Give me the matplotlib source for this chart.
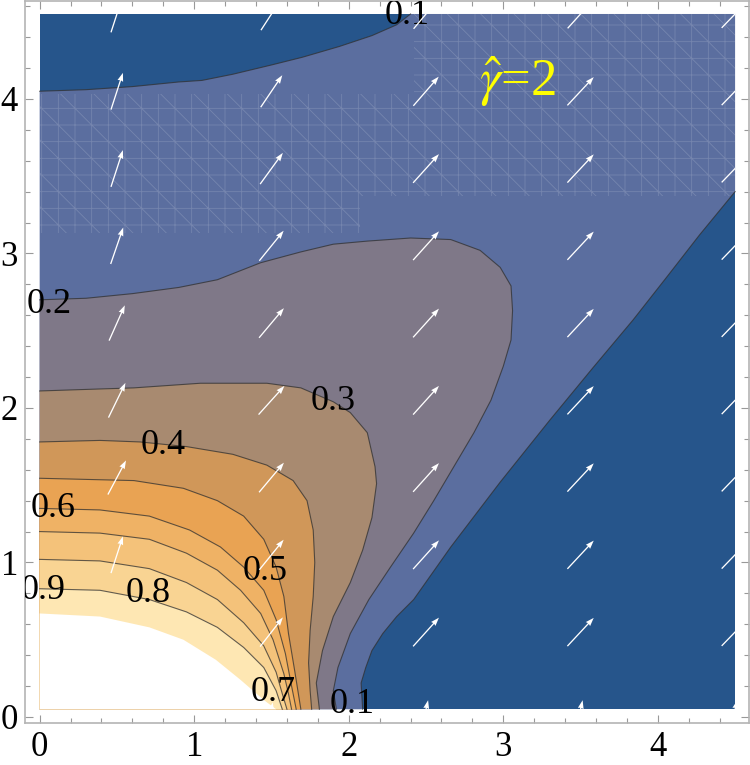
import numpy as np
import matplotlib.pyplot as plt
from matplotlib.patches import Polygon, Rectangle
from matplotlib.ticker import MultipleLocator

plt.rcParams['font.family'] = ['Liberation Serif', 'DejaVu Serif']
plt.rcParams['mathtext.fontset'] = 'stix'
plt.rcParams['hatch.linewidth'] = 0.6

# plotted domain
x_lo, x_hi = 0.0, 4.5
y_lo, y_hi = 0.05, 4.55

# band colours, lowest band (<0.1) first, last one is 0.9-1.0
band_colors = ['#26558b', '#5b6e9f', '#7f7888', '#a88a70', '#d09759',
               '#e9a353', '#efb265', '#f4c27a', '#f9d493', '#fee7b3']

# contour lines
c01_top_x = [0, 0.3, 0.6, 0.9, 1.05, 1.25, 1.5, 1.7, 1.94, 2.15, 2.31, 2.40]
c01_top_y = [4.05, 4.06, 4.08, 4.11, 4.12, 4.16, 4.22, 4.27, 4.34, 4.41, 4.48, 4.55]
c01_bot_x = [2.09, 2.08, 2.11, 2.15, 2.22, 2.31, 2.42, 2.66, 2.98, 3.30, 3.58, 3.84, 4.06, 4.27, 4.50]
c01_bot_y = [0.05, 0.22, 0.32, 0.43, 0.54, 0.65, 0.76, 1.10, 1.52, 1.92, 2.26, 2.57, 2.85, 3.12, 3.40]
c02_x = [0, 0.3, 0.6, 0.9, 1.15, 1.43, 1.69, 1.90, 2.12, 2.40, 2.66, 2.85, 2.98, 3.05, 3.06,
         3.05, 3.00, 2.92, 2.81, 2.68, 2.55, 2.42, 2.27, 2.13, 2.01, 1.93, 1.90, 1.92]
c02_y = [2.70, 2.71, 2.74, 2.78, 2.83, 2.94, 3.01, 3.06, 3.08, 3.10, 3.09, 3.02, 2.91, 2.79, 2.63,
         2.44, 2.27, 2.05, 1.84, 1.62, 1.40, 1.19, 0.97, 0.76, 0.54, 0.32, 0.17, 0.05]
c03_x = [0, 0.3, 0.61, 1.04, 1.47, 1.69, 1.90, 2.01, 2.12, 2.17, 2.18, 2.15, 2.09, 2.01, 1.90, 1.83, 1.79, 1.81]
c03_y = [2.11, 2.12, 2.13, 2.16, 2.16, 2.13, 2.04, 1.97, 1.84, 1.62, 1.51, 1.29, 1.08, 0.87, 0.65, 0.43, 0.22, 0.05]
c04_x = [0, 0.39, 0.65, 0.95, 1.25, 1.47, 1.64, 1.73, 1.77, 1.78, 1.77, 1.75, 1.74, 1.75, 1.76]
c04_y = [1.78, 1.79, 1.78, 1.75, 1.70, 1.63, 1.53, 1.40, 1.21, 1.00, 0.78, 0.56, 0.35, 0.17, 0.05]
c05_x = [0, 0.61, 0.93, 1.15, 1.32, 1.45, 1.53, 1.58, 1.61, 1.65, 1.69]
c05_y = [1.545, 1.53, 1.48, 1.40, 1.30, 1.15, 0.97, 0.78, 0.54, 0.30, 0.05]
c06_x = [0, 0.39, 0.71, 0.97, 1.17, 1.32, 1.45, 1.53, 1.59, 1.63, 1.66]
c06_y = [1.35, 1.34, 1.30, 1.21, 1.10, 0.97, 0.82, 0.63, 0.41, 0.20, 0.05]
c07_x = [0, 0.39, 0.71, 0.95, 1.15, 1.30, 1.43, 1.51, 1.58, 1.61, 1.63]
c07_y = [1.20, 1.19, 1.15, 1.06, 0.95, 0.82, 0.67, 0.50, 0.28, 0.15, 0.05]
c08_x = [0, 0.39, 0.71, 0.95, 1.15, 1.32, 1.45, 1.53, 1.57, 1.60]
c08_y = [1.02, 1.01, 0.96, 0.87, 0.76, 0.61, 0.46, 0.29, 0.15, 0.05]
c09_x = [0, 0.39, 0.71, 0.95, 1.15, 1.32, 1.45, 1.53, 1.57]
c09_y = [0.83, 0.82, 0.76, 0.68, 0.58, 0.45, 0.32, 0.17, 0.05]
white_x = [0, 0.39, 0.71, 0.93, 1.14, 1.30, 1.45, 1.53]
white_y = [0.67, 0.65, 0.58, 0.50, 0.37, 0.24, 0.11, 0.05]

inner_lines = [(c02_x, c02_y), (c03_x, c03_y), (c04_x, c04_y), (c05_x, c05_y),
               (c06_x, c06_y), (c07_x, c07_y), (c08_x, c08_y), (c09_x, c09_y)]

# contour labels
lab_text = ['0.1', '0.1', '0.2', '0.3', '0.4', '0.5', '0.6', '0.7', '0.8', '0.9']
lab_x = [2.38, 2.02, 0.06, 1.90, 0.80, 1.46, 0.09, 1.51, 0.70, 0.02]
lab_y = [4.54, 0.08, 2.67, 2.04, 1.76, 0.94, 1.35, 0.16, 0.80, 0.82]

# vector field: columns and rows of arrows, angle (deg) and length per arrow
vec_x = [0.5, 1.5, 2.5, 3.5, 4.5]
vec_y = [0.05, 0.55, 1.05, 1.55, 2.05, 2.55, 3.05, 3.55, 4.05, 4.55]
vec_ang = np.array([
    [80, 80, 77, 77, 76],
    [75, 52, 48, 47, 46],
    [72, 51, 48, 47, 46],
    [62, 50, 48, 47, 46],
    [64, 48, 48, 47, 46],
    [66, 50, 48, 47, 46],
    [71, 51, 48, 47, 46],
    [72, 54, 48, 47, 46],
    [72, 56, 49, 47, 46],
    [72, 57, 50, 48, 46]])
vec_len = np.array([
    [0.06, 0.09, 0.12, 0.12, 0.12],
    [0.08, 0.24, 0.25, 0.25, 0.25]] + [[0.25] * 5] * 8)

fig = plt.figure(figsize=(7.5, 7.65), dpi=100)
ax = fig.add_axes([25 / 750, 42 / 765, 724 / 750, 722 / 765])

# filled bands, painted from the outside in
ax.add_patch(Rectangle((x_lo, y_lo), x_hi - x_lo, y_hi - y_lo, facecolor=band_colors[0], lw=0, zorder=1))
p01 = (list(zip(c01_top_x, c01_top_y)) + [(x_hi, y_hi)]
       + list(zip(c01_bot_x[::-1], c01_bot_y[::-1])) + [(x_lo, y_lo)])
poly01 = Polygon(p01, closed=True, facecolor=band_colors[1], lw=0, zorder=1)
ax.add_patch(poly01)
for k, (cx, cy) in enumerate(inner_lines):
    pts = list(zip(cx, cy)) + [(x_lo, y_lo)]
    ax.add_patch(Polygon(pts, closed=True, facecolor=band_colors[k + 2], lw=0, zorder=1))
ax.add_patch(Polygon(list(zip(white_x, white_y)) + [(x_lo, y_lo)], closed=True,
                     facecolor='white', lw=0, zorder=1))

# faint triangulation mesh seen in the light blue band
mesh = Polygon([(0, 3.13), (2.07, 3.13), (2.07, 3.37), (4.5, 3.37), (4.5, 4.55), (2.42, 4.55),
                (2.42, 4.03), (0, 4.03)], closed=True, facecolor='none',
               edgecolor=(1, 1, 1, 0.16), lw=0, hatch='+\\', zorder=1.5)
ax.add_patch(mesh)
mesh.set_clip_path(poly01)

# contour lines
line_kw = dict(color='#303030', lw=0.8, alpha=0.75, zorder=2)
ax.plot(c01_top_x, c01_top_y, **line_kw)
ax.plot(c01_bot_x, c01_bot_y, **line_kw)
for cx, cy in inner_lines:
    ax.plot(cx, cy, **line_kw)

for t, lx, ly in zip(lab_text, lab_x, lab_y):
    ax.text(lx, ly, t, fontsize=26, ha='center', va='center', zorder=3, clip_on=True)

# arrows
VX, VY = np.meshgrid(vec_x, vec_y)
U = vec_len * np.cos(np.radians(vec_ang))
V = vec_len * np.sin(np.radians(vec_ang))
q = ax.quiver(VX, VY, U, V, angles='xy', scale_units='xy', scale=1, pivot='middle',
              color='white', width=0.0018, headwidth=4.5, headlength=6.5, headaxislength=6, zorder=4)
q.set_clip_path(Rectangle((x_lo, y_lo), x_hi - x_lo, y_hi - y_lo, transform=ax.transData))

ax.text(3.09, 4.11, r'$\hat{\gamma}$=2', color='#ffff00', fontsize=38, ha='center', va='center', zorder=5)

ax.set_xlim(-0.095, 4.59)
ax.set_ylim(-0.039, 4.634)
ax.xaxis.set_major_locator(MultipleLocator(1))
ax.yaxis.set_major_locator(MultipleLocator(1))
ax.xaxis.set_minor_locator(MultipleLocator(0.2))
ax.yaxis.set_minor_locator(MultipleLocator(0.2))
ax.tick_params(which='both', direction='in', top=True, right=True, color='#999999', width=0.8)
ax.tick_params(which='major', length=6, labelsize=25)
ax.tick_params(which='minor', length=3.5)
ax.tick_params(axis='x', pad=6)
ax.tick_params(axis='y', pad=5)
for s in ax.spines.values():
    s.set_color('#b4b4b4')
    s.set_linewidth(1.2)

fig.savefig('out.png', dpi=100)
